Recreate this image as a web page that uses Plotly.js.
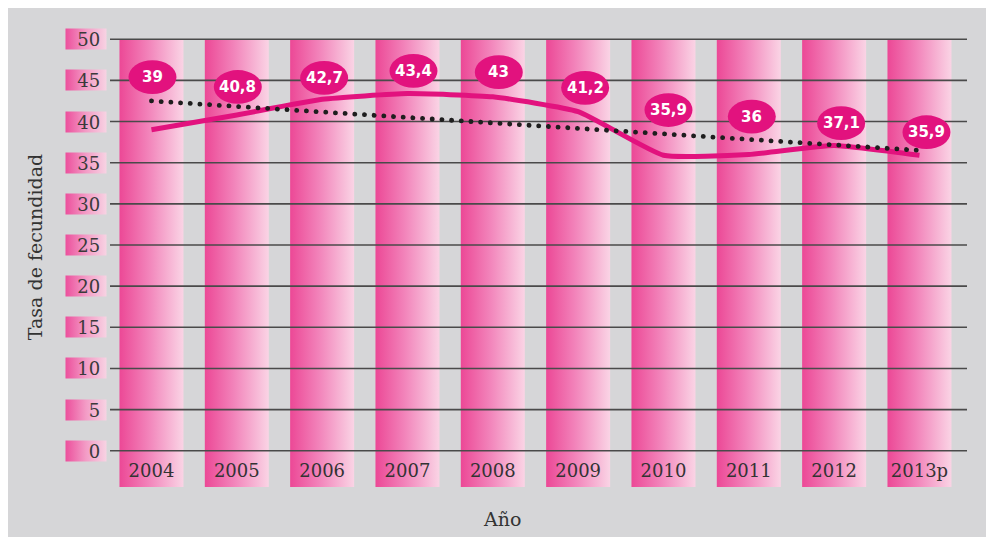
<!DOCTYPE html>
<html>
<head>
<meta charset="utf-8">
<script src="https://cdn.plot.ly/plotly-3.0.1.min.js"></script>
<style>
  html, body { margin: 0; padding: 0; background: #ffffff; width: 986px; height: 543px; overflow: hidden; }
  #chart { position: absolute; left: 8px; top: 8px; width: 978px; height: 529px; }
</style>
</head>
<body>
<div id="chart"></div>
<script>
// ---- data ----
const categories = ['2004', '2005', '2006', '2007', '2008', '2009', '2010', '2011', '2012', '2013p'];
const fertilityRate = [39, 40.8, 42.7, 43.4, 43, 41.2, 35.9, 36, 37.1, 35.9];
const valueLabels = ['39', '40,8', '42,7', '43,4', '43', '41,2', '35,9', '36', '37,1', '35,9'];
const trendEnds = [42.5, 36.5];           // dotted trend line, first and last year
const columnTop = [50, 50, 50, 50, 50, 50, 50, 50, 50, 50];
const yTickValues = [0, 5, 10, 15, 20, 25, 30, 35, 40, 45, 50];
const yTickLabels = ['0', '5', '10', '15', '20', '25', '30', '35', '40', '45', '50'];

// ---- label placement (positions, not data) ----
const labelCenterY = [45.4, 44.2, 45.3, 46.15, 46.0, 44.1, 41.4, 40.6, 39.8, 38.7];
const labelShiftPx = [1, 1, 2, 6, 6, 7, 5, 3, 7, 7];

// ---- style constants ----
const X_RANGE = [-0.486, 9.557];
const Y_RANGE = [-4.4, 51];
const COLUMN_BASE = -4.4;
const MAGENTA = '#e2127e';
const PX_PER_CAT = 857 / (X_RANGE[1] - X_RANGE[0]);
const ELL_HALF_W = 24 / PX_PER_CAT;
const ELL_HALF_H = 2.05;
const FONT = 'DejaVu Serif, Liberation Serif, serif';

const xIdx = categories.map((c, i) => i);

// gridlines as a line trace so they sit above the columns but below the data line
const gridX = [], gridY = [];
yTickValues.forEach(v => { gridX.push(X_RANGE[0], X_RANGE[1], null); gridY.push(v, v, null); });

const traces = [
  {
    type: 'bar', x: xIdx, y: columnTop.map(t => t - COLUMN_BASE), base: COLUMN_BASE,
    width: 0.75, marker: { color: '#f07ab5', line: { width: 0 } },
    hoverinfo: 'skip', showlegend: false
  },
  {
    type: 'scatter', mode: 'lines', x: gridX, y: gridY,
    line: { color: '#4a4a4a', width: 1.6 }, hoverinfo: 'skip', showlegend: false
  },
  {
    type: 'scatter', mode: 'lines', x: xIdx, y: fertilityRate, name: 'Tasa de fecundidad',
    line: { color: MAGENTA, width: 5, shape: 'spline', smoothing: 0.45 }, showlegend: false
  },
  {
    type: 'scatter', mode: 'lines', x: [xIdx[0], xIdx[xIdx.length - 1]], y: trendEnds,
    line: { color: '#1e1e1e', width: 4.8, dash: '0.1px,9.6px' }, hoverinfo: 'skip', showlegend: false
  }
];

const shapes = xIdx.map((i, k) => {
  const cx = i + labelShiftPx[k] / PX_PER_CAT;
  return {
    type: 'circle', xref: 'x', yref: 'y', layer: 'above',
    x0: cx - ELL_HALF_W, x1: cx + ELL_HALF_W,
    y0: labelCenterY[k] - ELL_HALF_H, y1: labelCenterY[k] + ELL_HALF_H,
    fillcolor: MAGENTA, line: { width: 0 }
  };
});

const annotations = [];
yTickValues.forEach((v, k) => {
  annotations.push({
    xref: 'paper', yref: 'y', x: -0.0035, y: v, xanchor: 'right', yanchor: 'middle',
    text: yTickLabels[k] + '\u00a0', showarrow: false, align: 'right',
    width: 40, height: 20, borderpad: 0, bgcolor: '#f2a2c8',
    font: { family: FONT, size: 18, color: '#3a3a3a' }
  });
});
xIdx.forEach((i, k) => {
  annotations.push({
    xref: 'x', yref: 'y', x: i + labelShiftPx[k] / PX_PER_CAT, y: labelCenterY[k],
    text: valueLabels[k], showarrow: false, xanchor: 'center', yanchor: 'middle',
    font: { family: 'DejaVu Sans, sans-serif', size: 15, color: '#ffffff', weight: 'bold' }
  });
});
annotations.push({
  xref: 'paper', yref: 'paper', x: -0.0875, y: 0.526, xanchor: 'center', yanchor: 'middle',
  text: 'Tasa de fecundidad', textangle: -90, showarrow: false,
  font: { family: FONT, size: 19, color: '#333333' }
});
annotations.push({
  xref: 'paper', yref: 'paper', x: 0.4574, y: -0.07, xanchor: 'center', yanchor: 'middle',
  text: 'Año', showarrow: false,
  font: { family: FONT, size: 19, color: '#333333' }
});

const layout = {
  width: 978, height: 529,
  margin: { l: 102, r: 19, t: 23, b: 50, autoexpand: false },
  paper_bgcolor: '#d6d6d8', plot_bgcolor: 'rgba(0,0,0,0)',
  showlegend: false,
  xaxis: {
    type: 'linear', range: X_RANGE, tickmode: 'array', tickvals: xIdx, ticktext: categories,
    showgrid: false, zeroline: false, showline: false, ticks: '',
    ticklabelposition: 'inside', ticklabelstandoff: 3,
    tickfont: { family: FONT, size: 18, color: '#333333' }, fixedrange: true
  },
  yaxis: {
    range: Y_RANGE, tickmode: 'array', tickvals: yTickValues,
    showgrid: false, zeroline: false, showline: false, showticklabels: false, ticks: '', fixedrange: true
  },
  shapes: shapes,
  annotations: annotations
};

const gd = document.getElementById('chart');
Plotly.newPlot(gd, traces, layout, { staticPlot: true, displayModeBar: false }).then(() => {
  const ns = 'http://www.w3.org/2000/svg';
  const svg = gd.querySelector('svg.main-svg');
  let defs = svg.querySelector('defs');
  if (!defs) { defs = document.createElementNS(ns, 'defs'); svg.insertBefore(defs, svg.firstChild); }
  function addGrad(id, stops) {
    const g = document.createElementNS(ns, 'linearGradient');
    g.setAttribute('id', id);
    g.setAttribute('x1', '0'); g.setAttribute('y1', '0'); g.setAttribute('x2', '1'); g.setAttribute('y2', '0');
    stops.forEach(s => {
      const st = document.createElementNS(ns, 'stop');
      st.setAttribute('offset', s[0]); st.setAttribute('stop-color', s[1]);
      g.appendChild(st);
    });
    defs.appendChild(g);
  }
  addGrad('colGrad', [[0, '#ec4896'], [0.45, '#f283ba'], [1, '#fad4e5']]);
  addGrad('tickGrad', [[0, '#ec4f9c'], [0.5, '#f39cc6'], [1, '#f7d3e3']]);
  gd.querySelectorAll('.barlayer path').forEach(p => { p.style.fill = 'url(#colGrad)'; });
  for (let k = 0; k < yTickValues.length; k++) {
    const r = gd.querySelector('.annotation[data-index="' + k + '"] rect.bg');
    if (r) r.style.fill = 'url(#tickGrad)';
  }
  const sTraces = gd.querySelectorAll('.scatterlayer .trace');
  const trend = sTraces[sTraces.length - 1];
  if (trend) trend.querySelectorAll('path.js-line').forEach(p => { p.style.strokeLinecap = 'round'; });
});
</script>
</body>
</html>
